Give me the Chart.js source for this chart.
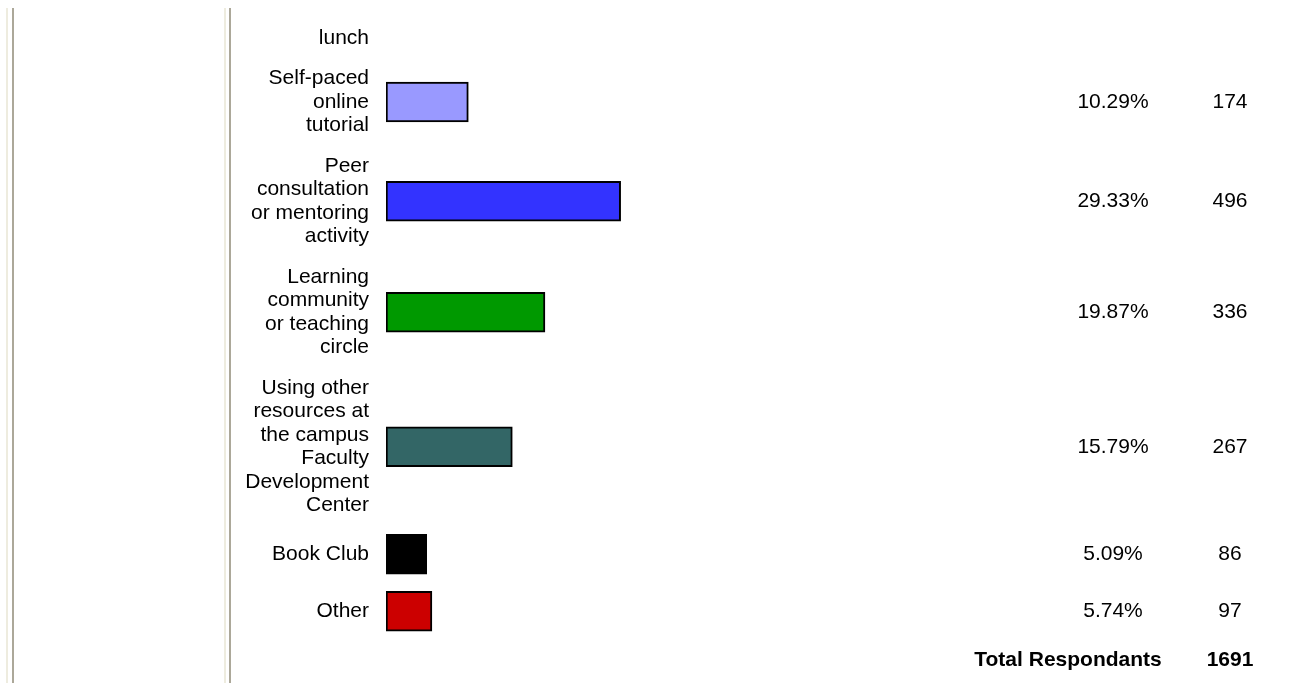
<!DOCTYPE html>
<html>
<head>
<meta charset="utf-8">
<script src="https://cdn.jsdelivr.net/npm/chart.js@4/dist/chart.umd.min.js"></script>
<style>
  body { margin: 0; background: #fff; }
  canvas { display: block; }
</style>
</head>
<body>
<canvas id="chart" width="1291" height="683"></canvas>
<script>
// survey answers (top row is the tail of a label cut off by the page)
const categories = [
  ["lunch"],
  ["Self-paced", "online", "tutorial"],
  ["Peer", "consultation", "or mentoring", "activity"],
  ["Learning", "community", "or teaching", "circle"],
  ["Using other", "resources at", "the campus", "Faculty", "Development", "Center"],
  ["Book Club"],
  ["Other"]
];
const percents = [null, 10.29, 29.33, 19.87, 15.79, 5.09, 5.74];
const counts = [null, 174, 496, 336, 267, 86, 97];
const barColors = [null, "#9999ff", "#3333ff", "#009900", "#336666", "#000000", "#cc0000"];
const totalLabel = "Total Respondants";
const totalCount = 1691;

const FONT = "'Liberation Sans', Arial, sans-serif";
const LINE_H = 23.5, BAR_H = 40, GAP = 17;

// rows stack like table cells: height of a row = taller of label block and bar
function rowHeight(i) {
  return Math.max(categories[i].length * LINE_H, percents[i] == null ? 0 : BAR_H);
}
const rowCenters = [];
let y = 38;
categories.forEach((c, i) => {
  if (i > 0) y += (rowHeight(i - 1) + rowHeight(i)) / 2 + GAP;
  rowCenters.push(y);
});
const totalY = y + (rowHeight(categories.length - 1) + LINE_H) / 2 + GAP;

const sidePlugin = {
  id: "side",
  beforeDraw(chart) {
    const ctx = chart.ctx;
    ctx.save();
    ctx.fillStyle = "#eeecdf";
    ctx.fillRect(6, 8, 2, 683);
    ctx.fillRect(224, 8, 2, 683);
    ctx.fillStyle = "#aca899";
    ctx.fillRect(12, 8, 2, 683);
    ctx.fillRect(229, 8, 2, 683);
    ctx.restore();
  },
  afterDraw(chart) {
    const ctx = chart.ctx;
    const ys = chart.scales.y;
    ctx.save();
    ctx.fillStyle = "#000";
    ctx.textAlign = "center";
    ctx.textBaseline = "middle";
    ctx.font = "21px " + FONT;
    percents.forEach((p, i) => {
      if (p == null) return;
      const py = ys.getPixelForValue(rowCenters[i]);
      ctx.fillText(p.toFixed(2) + "%", 1113, py);
      ctx.fillText(String(counts[i]), 1230, py);
    });
    ctx.font = "bold 21px " + FONT;
    const ty = ys.getPixelForValue(totalY);
    ctx.fillText(totalLabel, 1068, ty);
    ctx.fillText(String(totalCount), 1230, ty);
    ctx.restore();
  }
};

new Chart(document.getElementById("chart"), {
  type: "bar",
  data: {
    datasets: [{
      data: percents.map((p, i) => ({ x: p, y: rowCenters[i] })),
      backgroundColor: barColors,
      borderColor: "#000",
      borderWidth: 2,
      borderSkipped: false,
      barThickness: BAR_H
    }]
  },
  options: {
    indexAxis: "y",
    responsive: false,
    animation: false,
    layout: { padding: { left: 0, right: 105, top: 0, bottom: 0 } },
    plugins: { legend: { display: false }, tooltip: { enabled: false } },
    scales: {
      x: { type: "linear", display: false, min: 0, max: 100 },
      y: {
        type: "linear",
        min: 0,
        max: 683,
        reverse: true,
        offset: false,
        grid: { display: false, drawTicks: false, offset: false },
        border: { display: false },
        afterFit: s => { s.width = 386; s.paddingTop = 0; s.paddingBottom = 0; },
        afterBuildTicks: s => { s.ticks = rowCenters.map(v => ({ value: v })); },
        ticks: {
          autoSkip: false,
          padding: 17,
          color: "#000",
          font: { family: FONT, size: 21, lineHeight: LINE_H / 21 },
          callback: (v, i) => categories[i]
        }
      }
    }
  },
  plugins: [sidePlugin]
});
</script>
</body>
</html>
